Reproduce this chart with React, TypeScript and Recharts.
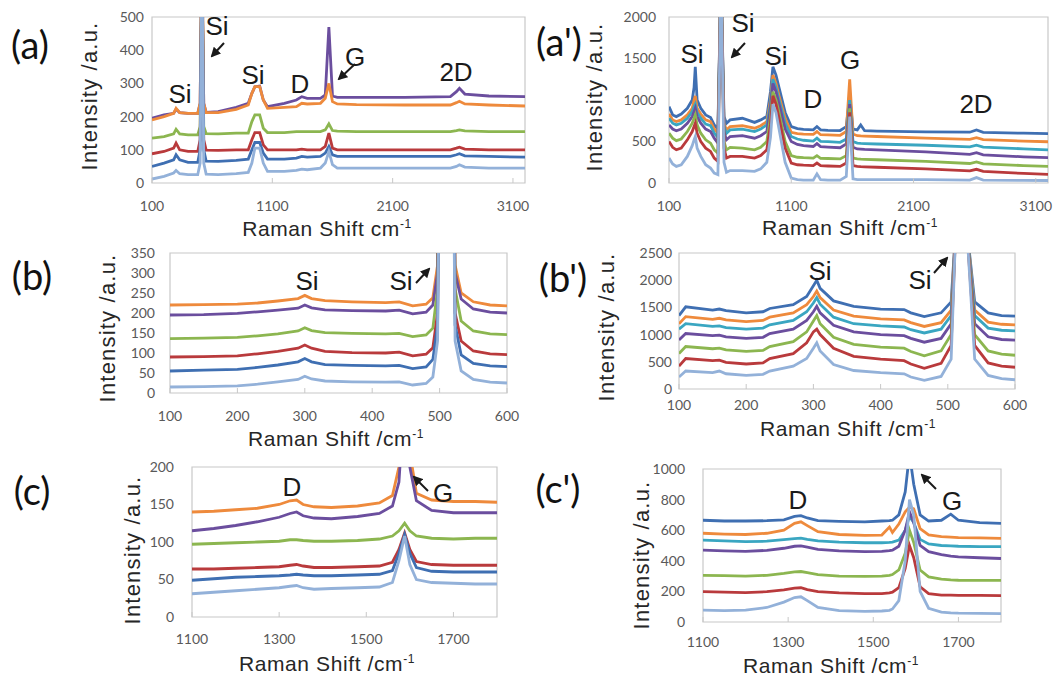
import { LineChart, Line, XAxis, YAxis, ReferenceArea } from "recharts";

// series colours (Excel-style palette)
const LIGHTBLUE = "#93b1d9";
const BLUE = "#3f6fb2";
const RED = "#b93a3c";
const GREEN = "#8cb650";
const PURPLE = "#6b4e9e";
const TEAL = "#3aa6c1";
const ORANGE = "#ee8a3c";

// ---------- (a) ----------
const aShift = [100, 200, 280, 300, 330, 400, 480, 500, 515, 530, 550, 650, 800, 900, 930, 955, 995, 1025, 1060, 1200, 1300, 1345, 1390, 1500, 1540, 1570, 1600, 1640, 1800, 2200, 2580, 2630, 2655, 2700, 2900, 3200];
const aPurple = [195, 205, 210, 222, 212, 210, 210, 240, 700, 240, 213, 215, 228, 240, 270, 290, 292, 250, 230, 240, 250, 260, 255, 255, 265, 470, 262, 258, 258, 258, 260, 275, 285, 268, 262, 260];
const aOrange = [190, 200, 210, 225, 212, 210, 210, 240, 700, 240, 212, 212, 222, 235, 270, 290, 290, 250, 225, 228, 230, 240, 238, 240, 255, 300, 245, 238, 236, 235, 235, 242, 246, 238, 235, 232];
const aGreen = [135, 140, 148, 162, 148, 145, 145, 170, 700, 170, 149, 148, 150, 150, 185, 205, 205, 165, 152, 152, 155, 155, 155, 155, 160, 178, 158, 156, 155, 155, 155, 158, 160, 157, 155, 155];
const aRed = [88, 95, 105, 120, 100, 95, 95, 130, 700, 130, 99, 98, 100, 100, 130, 152, 152, 115, 100, 100, 100, 102, 100, 100, 110, 150, 105, 100, 100, 100, 100, 105, 108, 102, 100, 100];
const aBlue = [50, 60, 70, 85, 70, 62, 62, 100, 700, 100, 66, 65, 68, 72, 100, 122, 122, 90, 72, 72, 75, 80, 78, 80, 90, 110, 85, 80, 80, 80, 80, 85, 88, 82, 80, 78];
const aLightBlue = [12, 20, 30, 38, 28, 25, 25, 60, 700, 60, 27, 25, 28, 32, 60, 105, 105, 60, 35, 35, 38, 42, 40, 45, 60, 95, 55, 45, 45, 45, 45, 50, 55, 48, 45, 45];

// ---------- (a') ----------
const apShift = [100, 130, 160, 200, 250, 290, 305, 315, 330, 360, 400, 440, 470, 500, 525, 550, 570, 600, 700, 800, 850, 900, 930, 950, 975, 1000, 1050, 1100, 1150, 1200, 1280, 1310, 1340, 1400, 1500, 1550, 1578, 1605, 1640, 1668, 1700, 1800, 2200, 2560, 2615, 2670, 3000, 3200];
const apBlue = [920, 820, 800, 830, 900, 1000, 1150, 1400, 1000, 900, 820, 790, 700, 650, 2500, 800, 720, 760, 780, 730, 760, 800, 1100, 1400, 1300, 1150, 850, 680, 655, 645, 640, 680, 640, 635, 632, 680, 1050, 650, 640, 700, 630, 625, 615, 612, 640, 610, 600, 595];
const apOrange = [830, 760, 740, 760, 820, 900, 1000, 1050, 900, 830, 760, 740, 650, 600, 2500, 720, 640, 680, 690, 660, 690, 740, 1000, 1300, 1200, 1050, 780, 610, 595, 590, 585, 620, 582, 580, 575, 620, 1250, 590, 570, 567, 565, 560, 540, 525, 545, 522, 505, 497];
const apTeal = [780, 720, 700, 720, 780, 860, 920, 950, 850, 780, 710, 690, 600, 550, 2500, 680, 600, 640, 650, 620, 650, 700, 950, 1250, 1150, 1000, 720, 560, 530, 515, 505, 540, 502, 498, 490, 530, 1000, 500, 480, 477, 475, 470, 455, 435, 455, 432, 412, 400];
const apPurple = [700, 650, 630, 650, 720, 800, 860, 900, 800, 720, 650, 620, 540, 480, 2500, 620, 520, 560, 570, 540, 570, 620, 900, 1200, 1100, 950, 650, 500, 465, 450, 440, 475, 438, 432, 425, 470, 950, 430, 410, 408, 405, 400, 375, 345, 365, 340, 315, 305];
const apGreen = [600, 540, 510, 530, 620, 720, 780, 820, 700, 600, 520, 480, 400, 360, 2500, 500, 400, 430, 420, 400, 430, 500, 800, 1100, 1000, 850, 500, 330, 310, 305, 300, 330, 298, 295, 290, 330, 900, 300, 290, 287, 285, 280, 260, 235, 255, 230, 210, 200];
const apRed = [500, 430, 400, 420, 520, 620, 680, 720, 600, 500, 420, 380, 300, 260, 2500, 420, 300, 320, 320, 300, 330, 400, 700, 1050, 950, 780, 420, 240, 220, 215, 210, 240, 208, 205, 200, 240, 850, 210, 200, 197, 195, 190, 170, 145, 165, 140, 115, 105];
const apLightBlue = [300, 230, 200, 220, 320, 450, 520, 560, 420, 320, 220, 180, 120, 100, 2500, 250, 130, 150, 150, 140, 170, 250, 550, 950, 850, 650, 250, 60, 40, 35, 35, 110, 40, 35, 35, 80, 800, 50, 40, 40, 40, 40, 40, 35, 65, 35, 32, 30];

// ---------- (b) ----------
const bShift = [100, 150, 200, 230, 260, 290, 300, 310, 330, 370, 420, 440, 460, 480, 490, 497, 503, 510, 517, 523, 532, 550, 575, 600];
const bOrange = [220, 221, 222, 225, 230, 236, 244, 236, 231, 228, 226, 228, 218, 222, 238, 320, 1200, 5000, 1200, 320, 250, 228, 220, 218];
const bPurple = [195, 196, 199, 203, 207, 212, 220, 213, 208, 206, 205, 207, 198, 202, 220, 300, 1200, 5000, 1200, 300, 235, 210, 202, 200];
const bGreen = [136, 137, 139, 143, 148, 155, 163, 156, 151, 149, 148, 149, 141, 145, 162, 260, 1200, 5000, 1200, 260, 180, 155, 148, 146];
const bRed = [90, 91, 93, 98, 104, 112, 120, 112, 104, 101, 100, 102, 93, 97, 113, 200, 1200, 5000, 1200, 200, 130, 105, 98, 96];
const bBlue = [55, 57, 59, 64, 70, 78, 86, 78, 71, 69, 68, 69, 61, 65, 84, 170, 1200, 5000, 1200, 170, 95, 74, 68, 66];
const bLightBlue = [15, 16, 18, 22, 28, 34, 42, 35, 30, 28, 27, 28, 20, 24, 40, 130, 1200, 5000, 1200, 130, 55, 34, 27, 25];

// ---------- (b') ----------
const bpShift = [100, 110, 150, 160, 170, 200, 225, 235, 270, 290, 300, 305, 310, 330, 360, 400, 435, 445, 465, 490, 505, 512, 520, 528, 540, 560, 580, 600];
const bpBlue = [1350, 1510, 1450, 1470, 1440, 1400, 1420, 1480, 1550, 1700, 1900, 2000, 1850, 1620, 1520, 1470, 1460, 1400, 1330, 1400, 1600, 3000, 9000, 3000, 1600, 1400, 1350, 1340];
const bpOrange = [1200, 1330, 1280, 1300, 1270, 1240, 1260, 1320, 1400, 1550, 1700, 1800, 1680, 1450, 1340, 1290, 1270, 1220, 1150, 1220, 1450, 3000, 9000, 3000, 1450, 1230, 1190, 1180];
const bpTeal = [1100, 1200, 1150, 1160, 1130, 1100, 1120, 1180, 1260, 1420, 1580, 1680, 1560, 1320, 1200, 1160, 1140, 1090, 1030, 1100, 1350, 3000, 9000, 3000, 1350, 1120, 1080, 1070];
const bpPurple = [900, 1020, 980, 990, 960, 930, 950, 1020, 1100, 1260, 1420, 1520, 1400, 1170, 1050, 1000, 980, 930, 860, 930, 1200, 3000, 9000, 3000, 1200, 960, 910, 900];
const bpGreen = [650, 780, 740, 750, 720, 690, 710, 780, 870, 1050, 1250, 1350, 1200, 950, 820, 770, 750, 690, 610, 700, 1000, 3000, 9000, 3000, 1000, 700, 640, 620];
const bpRed = [420, 560, 520, 530, 490, 460, 480, 560, 650, 850, 1050, 1100, 1000, 750, 600, 550, 520, 460, 380, 470, 800, 3000, 9000, 3000, 800, 480, 420, 400];
const bpLightBlue = [220, 330, 300, 330, 280, 250, 270, 330, 420, 560, 750, 850, 700, 450, 340, 300, 280, 220, 160, 230, 550, 3000, 9000, 3000, 550, 250, 190, 170];

// ---------- (c) ----------
const cShift = [1100, 1150, 1200, 1250, 1300, 1325, 1340, 1355, 1380, 1420, 1480, 1530, 1560, 1575, 1588, 1600, 1615, 1650, 1700, 1750, 1800];
const cOrange = [140, 141, 143, 145, 150, 155, 156, 150, 147, 146, 148, 152, 162, 200, 300, 220, 165, 156, 154, 154, 153];
const cPurple = [115, 118, 122, 127, 133, 138, 140, 135, 132, 131, 134, 138, 148, 180, 300, 200, 155, 142, 139, 139, 139];
const cGreen = [97, 98, 99, 100, 101, 103, 103, 102, 101, 101, 102, 104, 108, 115, 125, 115, 108, 105, 104, 105, 105];
const cRed = [64, 64, 65, 66, 67, 69, 70, 68, 66, 66, 67, 68, 73, 90, 112, 90, 74, 70, 69, 69, 69];
const cBlue = [49, 51, 53, 54, 55, 56, 57, 56, 55, 55, 56, 57, 62, 85, 110, 85, 66, 61, 60, 60, 60];
const cLightBlue = [31, 33, 35, 37, 39, 41, 42, 39, 37, 38, 39, 40, 46, 75, 108, 70, 50, 46, 45, 44, 44];

// ---------- (c') ----------
const cpShift = [1100, 1150, 1200, 1250, 1290, 1315, 1330, 1345, 1370, 1420, 1480, 1520, 1538, 1545, 1560, 1575, 1585, 1595, 1610, 1630, 1660, 1682, 1700, 1750, 1800];
const cpBlue = [665, 660, 660, 662, 668, 690, 695, 680, 662, 658, 655, 660, 662, 665, 700, 850, 1100, 900, 700, 660, 665, 705, 665, 650, 645];
const cpOrange = [580, 575, 572, 580, 600, 645, 655, 630, 590, 572, 566, 568, 620, 585, 640, 720, 750, 740, 610, 570, 558, 555, 552, 550, 547];
const cpTeal = [535, 530, 525, 528, 538, 545, 548, 540, 530, 522, 518, 518, 520, 522, 535, 600, 690, 650, 540, 510, 500, 497, 495, 493, 492];
const cpPurple = [470, 465, 462, 468, 482, 495, 498, 490, 475, 465, 460, 462, 466, 470, 495, 600, 720, 650, 500, 460, 440, 430, 425, 420, 415];
const cpGreen = [305, 303, 300, 305, 318, 328, 330, 322, 310, 300, 298, 300, 305, 310, 340, 450, 600, 520, 340, 295, 280, 275, 273, 272, 272];
const cpRed = [198, 195, 192, 198, 210, 222, 224, 212, 198, 190, 185, 186, 190, 195, 225, 350, 500, 420, 230, 185, 176, 175, 174, 174, 173];
const cpLightBlue = [78, 75, 78, 95, 130, 160, 165, 140, 95, 75, 70, 72, 76, 85, 140, 400, 800, 700, 200, 90, 65, 60, 58, 56, 55];

const wideTicks = [100, 1100, 2100, 3100];
const siTicks = [100, 200, 300, 400, 500, 600];
const carbonTicks = [1100, 1300, 1500, 1700];

type Series = { name: string; color: string; values: number[] };
type Box = { l: number; t: number; r: number; b: number };
type PanelSpec = {
  box: Box;
  shift: number[];
  series: Series[];
  xDomain: [number, number];
  xTicks: number[];
  yTicks: number[];
  yGap: number;
  xGap: number;
};

const tickFont = { fontSize: 14, fill: "#595959", fontFamily: "Lato" };

const Panel = ({ spec }: { spec: PanelSpec }) => {
  const { box } = spec;
  const padL = 80;
  const padT = 10;
  const padR = 30;
  const padB = 45;
  const yMax = spec.yTicks[spec.yTicks.length - 1];
  const rows = spec.shift.map((x, i) => {
    const row: Record<string, number> = { x };
    spec.series.forEach((s) => {
      row[s.name] = s.values[i];
    });
    return row;
  });
  return (
    <div style={{ position: "absolute", left: box.l - padL, top: box.t - padT }}>
      <LineChart
        width={box.r - box.l + padL + padR}
        height={box.b - box.t + padT + padB}
        data={rows}
        margin={{ top: padT, right: padR, left: 0, bottom: 0 }}
      >
        <XAxis
          dataKey="x"
          type="number"
          domain={spec.xDomain}
          ticks={spec.xTicks}
          interval={0}
          allowDataOverflow
          height={padB}
          axisLine={false}
          tickSize={-5}
          tickMargin={spec.xGap}
          tickLine={{ stroke: "#c8c8c8" }}
          tick={tickFont}
        />
        <YAxis
          type="number"
          domain={[0, yMax]}
          ticks={spec.yTicks}
          interval={0}
          allowDataOverflow
          width={padL}
          axisLine={false}
          tickLine={false}
          tickSize={0}
          tickMargin={spec.yGap}
          tick={tickFont}
        />
        <ReferenceArea
          x1={spec.xDomain[0]}
          x2={spec.xDomain[1]}
          y1={0}
          y2={yMax}
          fill="none"
          stroke="#c8c8c8"
          strokeWidth={1.2}
        />
        {spec.series.map((s) => (
          <Line
            key={s.name}
            dataKey={s.name}
            stroke={s.color}
            strokeWidth={2.8}
            dot={false}
            type="linear"
            isAnimationActive={false}
          />
        ))}
      </LineChart>
    </div>
  );
};

const panels: PanelSpec[] = [
  {
    box: { l: 152, t: 17, r: 525, b: 183 },
    shift: aShift,
    series: [
      { name: "purple", color: PURPLE, values: aPurple },
      { name: "orange", color: ORANGE, values: aOrange },
      { name: "green", color: GREEN, values: aGreen },
      { name: "red", color: RED, values: aRed },
      { name: "blue", color: BLUE, values: aBlue },
      { name: "lightblue", color: LIGHTBLUE, values: aLightBlue },
    ],
    xDomain: [100, 3200],
    xTicks: wideTicks,
    yTicks: [0, 100, 200, 300, 400, 500],
    yGap: 8,
    xGap: 23,
  },
  {
    box: { l: 669, t: 17, r: 1048, b: 183 },
    shift: apShift,
    series: [
      { name: "blue", color: BLUE, values: apBlue },
      { name: "orange", color: ORANGE, values: apOrange },
      { name: "teal", color: TEAL, values: apTeal },
      { name: "purple", color: PURPLE, values: apPurple },
      { name: "green", color: GREEN, values: apGreen },
      { name: "red", color: RED, values: apRed },
      { name: "lightblue", color: LIGHTBLUE, values: apLightBlue },
    ],
    xDomain: [100, 3200],
    xTicks: wideTicks,
    yTicks: [0, 500, 1000, 1500, 2000],
    yGap: 13,
    xGap: 23,
  },
  {
    box: { l: 170, t: 253, r: 507, b: 393 },
    shift: bShift,
    series: [
      { name: "orange", color: ORANGE, values: bOrange },
      { name: "purple", color: PURPLE, values: bPurple },
      { name: "green", color: GREEN, values: bGreen },
      { name: "red", color: RED, values: bRed },
      { name: "blue", color: BLUE, values: bBlue },
      { name: "lightblue", color: LIGHTBLUE, values: bLightBlue },
    ],
    xDomain: [100, 600],
    xTicks: siTicks,
    yTicks: [0, 50, 100, 150, 200, 250, 300, 350],
    yGap: 15,
    xGap: 23,
  },
  {
    box: { l: 679, t: 253, r: 1015, b: 389 },
    shift: bpShift,
    series: [
      { name: "blue", color: BLUE, values: bpBlue },
      { name: "orange", color: ORANGE, values: bpOrange },
      { name: "teal", color: TEAL, values: bpTeal },
      { name: "purple", color: PURPLE, values: bpPurple },
      { name: "green", color: GREEN, values: bpGreen },
      { name: "red", color: RED, values: bpRed },
      { name: "lightblue", color: LIGHTBLUE, values: bpLightBlue },
    ],
    xDomain: [100, 600],
    xTicks: siTicks,
    yTicks: [0, 500, 1000, 1500, 2000, 2500],
    yGap: 7,
    xGap: 16,
  },
  {
    box: { l: 192, t: 467, r: 497, b: 617 },
    shift: cShift,
    series: [
      { name: "orange", color: ORANGE, values: cOrange },
      { name: "purple", color: PURPLE, values: cPurple },
      { name: "green", color: GREEN, values: cGreen },
      { name: "red", color: RED, values: cRed },
      { name: "blue", color: BLUE, values: cBlue },
      { name: "lightblue", color: LIGHTBLUE, values: cLightBlue },
    ],
    xDomain: [1100, 1800],
    xTicks: carbonTicks,
    yTicks: [0, 50, 100, 150, 200],
    yGap: 18,
    xGap: 22,
  },
  {
    box: { l: 703, t: 469, r: 1001, b: 622 },
    shift: cpShift,
    series: [
      { name: "blue", color: BLUE, values: cpBlue },
      { name: "orange", color: ORANGE, values: cpOrange },
      { name: "teal", color: TEAL, values: cpTeal },
      { name: "purple", color: PURPLE, values: cpPurple },
      { name: "green", color: GREEN, values: cpGreen },
      { name: "red", color: RED, values: cpRed },
      { name: "lightblue", color: LIGHTBLUE, values: cpLightBlue },
    ],
    xDomain: [1100, 1800],
    xTicks: carbonTicks,
    yTicks: [0, 200, 400, 600, 800, 1000],
    yGap: 18,
    xGap: 20,
  },
];

// text placed by its centre
const centred = (x: number, y: number): React.CSSProperties => ({
  position: "absolute",
  left: x,
  top: y,
  transform: "translate(-50%, -50%)",
  whiteSpace: "nowrap",
  lineHeight: 1,
});

const panelLabels = [
  { text: "(a)", x: 30, y: 44 },
  { text: "(a')", x: 559, y: 41 },
  { text: "(b)", x: 32, y: 275 },
  { text: "(b')", x: 563, y: 277 },
  { text: "(c)", x: 32, y: 490 },
  { text: "(c')", x: 558, y: 488 },
];

const xTitles = [
  { slash: false, x: 327, y: 228 },
  { slash: true, x: 850, y: 227 },
  { slash: true, x: 336, y: 438 },
  { slash: true, x: 848, y: 428 },
  { slash: true, x: 327, y: 663 },
  { slash: true, x: 831, y: 665 },
];

const yTitles = [
  { x: 90, y: 96 },
  { x: 595, y: 97 },
  { x: 108, y: 328 },
  { x: 607, y: 327 },
  { x: 133, y: 550 },
  { x: 642, y: 555 },
];

const peakLabels = [
  { text: "Si", x: 180, y: 94 },
  { text: "Si", x: 217, y: 26 },
  { text: "Si", x: 253, y: 75 },
  { text: "D", x: 300, y: 84 },
  { text: "G", x: 355, y: 57 },
  { text: "2D", x: 456, y: 72 },
  { text: "Si", x: 692, y: 54 },
  { text: "Si", x: 743, y: 23 },
  { text: "Si", x: 776, y: 56 },
  { text: "D", x: 813, y: 99 },
  { text: "G", x: 850, y: 60 },
  { text: "2D", x: 976, y: 104 },
  { text: "Si", x: 307, y: 281 },
  { text: "Si", x: 401, y: 281 },
  { text: "Si", x: 820, y: 271 },
  { text: "Si", x: 920, y: 280 },
  { text: "D", x: 292, y: 487 },
  { text: "G", x: 443, y: 493 },
  { text: "D", x: 798, y: 500 },
  { text: "G", x: 952, y: 501 },
];

const arrows = [
  { x1: 224, y1: 43, x2: 212, y2: 56 },
  { x1: 355, y1: 64, x2: 339, y2: 79 },
  { x1: 745, y1: 43, x2: 732, y2: 57 },
  { x1: 416, y1: 283, x2: 429, y2: 269 },
  { x1: 934, y1: 273, x2: 947, y2: 258 },
  { x1: 428, y1: 491, x2: 414, y2: 477 },
  { x1: 936, y1: 489, x2: 922, y2: 475 },
];

const App = () => {
  return (
    <div
      style={{
        position: "absolute",
        left: 0,
        top: 0,
        width: 1055,
        height: 677,
        background: "#fff",
        overflow: "hidden",
        fontFamily: "'Liberation Sans', Arial, sans-serif",
      }}
    >
      {panels.map((p, i) => (
        <Panel key={i} spec={p} />
      ))}

      {panelLabels.map((l) => (
        <div key={l.text} style={{ ...centred(l.x, l.y), fontSize: 38, fontFamily: "Lato", color: "#111" }}>
          {l.text}
        </div>
      ))}

      {xTitles.map((t, i) => (
        <div key={i} style={{ ...centred(t.x, t.y), fontSize: 21, letterSpacing: 0.6, color: "#262626" }}>
          Raman Shift {t.slash ? "/" : ""}cm
          <sup style={{ fontSize: 12, verticalAlign: "8px" }}>-1</sup>
        </div>
      ))}

      {yTitles.map((t, i) => (
        <div
          key={i}
          style={{
            ...centred(t.x, t.y),
            transform: "translate(-50%, -50%) rotate(-90deg)",
            fontSize: 22,
            color: "#262626",
            letterSpacing: 1.2,
          }}
        >
          Intensity /a.u.
        </div>
      ))}

      {peakLabels.map((p, i) => (
        <div key={i} style={{ ...centred(p.x, p.y), fontSize: 26, color: "#1a1a1a" }}>
          {p.text}
        </div>
      ))}

      <svg width={1055} height={677} style={{ position: "absolute", left: 0, top: 0, pointerEvents: "none" }}>
        <defs>
          <marker id="head" viewBox="0 0 10 10" refX="8" refY="5" markerWidth="5" markerHeight="5" orient="auto">
            <path d="M0,0 L10,5 L0,10 z" fill="#1a1a1a" />
          </marker>
        </defs>
        {arrows.map((a, i) => (
          <line key={i} x1={a.x1} y1={a.y1} x2={a.x2} y2={a.y2} stroke="#1a1a1a" strokeWidth={2} markerEnd="url(#head)" />
        ))}
      </svg>
    </div>
  );
};

export default App;
